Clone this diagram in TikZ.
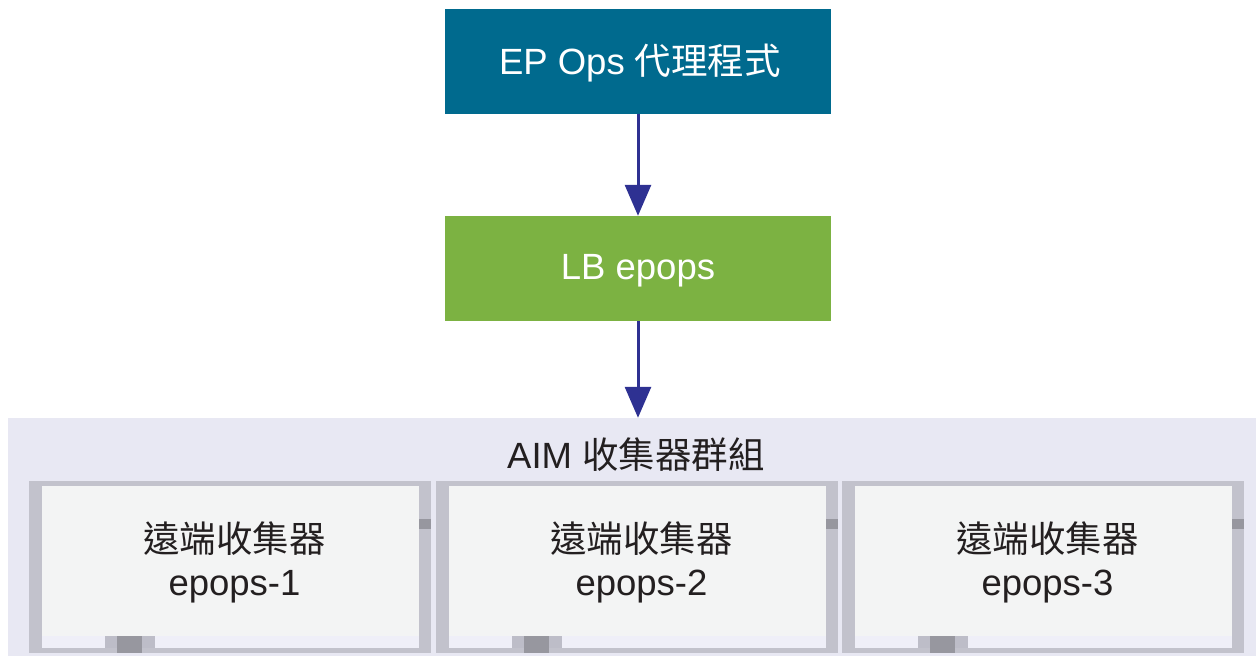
\documentclass[tikz,border=0pt]{standalone}
\usepackage{fontspec}
\setmainfont{Liberation Sans}
\newfontfamily\cjk{Noto Sans CJK TC}
\usetikzlibrary{arrows.meta}
\definecolor{epblue}{RGB}{0,106,142}
\definecolor{lbgreen}{RGB}{124,178,66}
\definecolor{navy}{RGB}{46,49,146}
\definecolor{groupbg}{RGB}{232,232,243}
\definecolor{framegray}{RGB}{194,194,204}
\definecolor{panel}{RGB}{243,244,244}
\definecolor{strip}{RGB}{239,239,248}
\definecolor{blockgray}{RGB}{189,189,200}
\definecolor{darkgray}{RGB}{151,151,159}
\definecolor{txt}{RGB}{35,31,32}
\begin{document}
\begin{tikzpicture}[x=1pt,y=-1pt,
  topbox/.style={draw=none,inner sep=0pt,minimum width=386pt,minimum height=105pt,text=white,font=\fontsize{36.5}{44}\selectfont},
  arr/.style={draw=navy,line width=3pt,-{Triangle[width=26pt,length=31pt]}},
  frame/.style={draw=none,fill=framegray,inner sep=0pt,minimum width=402pt,minimum height=172pt},
  lbl/.style={text=txt,align=center,font=\fontsize{36.5}{42.5}\selectfont}]
\useasboundingbox (0,0) rectangle (1256,656);
\node[topbox,fill=epblue] (ep) at (638,61.5) {};
\node[text=white,font=\fontsize{36.5}{44}\selectfont] (ept) at (640,63) {EP Ops {\cjk 代理程式}};
\node[topbox,fill=lbgreen] (lb) at (638,268.5) {};
\node[text=white,font=\fontsize{36.5}{44}\selectfont] (lbt) at (638,270.5) {LB epops};
\node[draw=none,fill=groupbg,inner sep=0pt,minimum width=1248pt,minimum height=238pt] (group) at (632,537) {};
\node[text=txt,font=\fontsize{36.5}{44}\selectfont] (gt) at (636,455) {AIM {\cjk 收集器群組}};
\draw[arr] (ep.south) -- (lb.north);
\draw[arr] (lb.south) -- (lb.south |- group.north);
\foreach \i/\x in {1/29,2/436,3/842}{
  \node[frame,anchor=north west] (c\i) at (\x,481) {};
  \fill[strip] (\x+13,636) rectangle (\x+390,648);
  \fill[panel] (\x+13,486) rectangle (\x+390,636);
  \fill[blockgray] (\x+76,636) rectangle (\x+126,648);
  \fill[darkgray] (\x+88,636) rectangle (\x+113,653);
  \fill[darkgray] (\x+390,519) rectangle (\x+402,529);
  \node[lbl] (t\i) at (\x+205.5,562.5) {{\cjk 遠端收集器}\\epops-\i};
}
\end{tikzpicture}
\end{document}
